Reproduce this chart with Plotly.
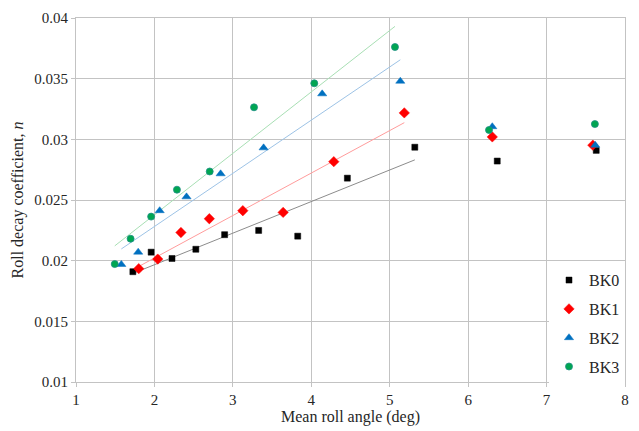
import numpy as np
import plotly.graph_objects as go

# ---- data ----
bk0_x = [1.725, 1.958, 2.224, 2.528, 2.895, 3.329, 3.827, 4.46, 5.32, 6.371, 7.633]
bk0_y = [0.01909, 0.0207, 0.02018, 0.02094, 0.02214, 0.02249, 0.02202, 0.0268, 0.02935, 0.02821, 0.02909]

bk1_x = [1.80, 2.042, 2.338, 2.70, 3.127, 3.641, 4.287, 5.186, 6.308, 7.59]
bk1_y = [0.01934, 0.02013, 0.02232, 0.02346, 0.02412, 0.02398, 0.02816, 0.03218, 0.0302, 0.02952]

bk2_x = [1.578, 1.793, 2.067, 2.409, 2.844, 3.392, 4.139, 5.135, 6.308, 7.62]
bk2_y = [0.01969, 0.0207, 0.02412, 0.02526, 0.02716, 0.0293, 0.03375, 0.03479, 0.03104, 0.02952]

bk3_x = [1.494, 1.696, 1.958, 2.287, 2.705, 3.27, 4.038, 5.067, 6.266, 7.616]
bk3_y = [0.01972, 0.02181, 0.02363, 0.02585, 0.02735, 0.03264, 0.03462, 0.03761, 0.03077, 0.03126]

series_names = ["BK0", "BK1", "BK2", "BK3"]
fit_max_x = 5.5  # trendlines fitted over the points below this roll angle

x_tick_vals = [1, 2, 3, 4, 5, 6, 7, 8]
x_tick_text = ["1", "2", "3", "4", "5", "6", "7", "8"]
y_tick_vals = [0.01, 0.015, 0.02, 0.025, 0.03, 0.035, 0.04]
y_tick_text = ["0.01", "0.015", "0.02", "0.025", "0.03", "0.035", "0.04"]

# ---- styling ----
styles = [
    dict(symbol="square", size=6, color="#000000", line=dict(color="#000000", width=0.5), trend="#8c8c8c"),
    dict(symbol="diamond", size=8, color="#ff0000", line=dict(color="#ff0000", width=0.5), trend="#ff9c9c"),
    dict(symbol="triangle-up", size=8, color="#0070c0", line=dict(color="#0070c0", width=0.5), trend="#9dc3e6"),
    dict(symbol="circle", size=7, color="#00a651", line=dict(color="#1f8f86", width=0.8), trend="#a8dfb4"),
]

FONT = "Liberation Serif, serif"
TXT = "#262626"
GRID = "#c3c3c3"

fig = go.Figure()
all_series = [(bk0_x, bk0_y), (bk1_x, bk1_y), (bk2_x, bk2_y), (bk3_x, bk3_y)]

# trendlines (linear least squares over the low-angle points)
for (xs, ys), st in zip(all_series, styles):
    xa = np.array(xs)
    ya = np.array(ys)
    m = xa < fit_max_x
    k, b = np.polyfit(xa[m], ya[m], 1)
    xl = np.array([xa[m].min(), xa[m].max()])
    fig.add_trace(go.Scatter(
        x=xl, y=k * xl + b, mode="lines",
        line=dict(color=st["trend"], width=1),
        showlegend=False, hoverinfo="skip",
    ))

for (xs, ys), st, name in zip(all_series, styles, series_names):
    fig.add_trace(go.Scatter(
        x=xs, y=ys, mode="markers", name=name, legendgroup=name,
        marker=dict(symbol=st["symbol"], size=st["size"], color=st["color"], line=st["line"]),
    ))

fig.update_layout(
    width=639, height=431,
    margin=dict(l=76, r=10, t=14, b=49),
    paper_bgcolor="white", plot_bgcolor="white",
    font=dict(family=FONT, size=15, color=TXT),
    legend=dict(
        x=1, xanchor="right", y=-0.006, yanchor="bottom",
        bgcolor="white", borderwidth=0,
        font=dict(family=FONT, size=16, color=TXT),
        tracegroupgap=5, itemwidth=30,
    ),
    showlegend=True,
)

fig.update_xaxes(
    range=[1, 8], tickvals=x_tick_vals, ticktext=x_tick_text,
    showgrid=True, gridcolor=GRID, gridwidth=1,
    showline=True, linecolor=GRID, linewidth=1, mirror=True,
    ticks="outside", ticklen=4, tickcolor=GRID,
    zeroline=False,
    tickfont=dict(family=FONT, size=15, color=TXT),
    title=dict(text="Mean roll angle (deg)", font=dict(family=FONT, size=16, color=TXT), standoff=2),
)
fig.update_yaxes(
    range=[0.01, 0.04], tickvals=y_tick_vals, ticktext=y_tick_text,
    showgrid=True, gridcolor=GRID, gridwidth=1,
    showline=True, linecolor=GRID, linewidth=1, mirror=True,
    ticks="outside", ticklen=4, tickcolor=GRID,
    zeroline=False,
    tickfont=dict(family=FONT, size=15, color=TXT),
    title=dict(text="Roll decay coefficient, <i>n</i>", font=dict(family=FONT, size=16, color=TXT), standoff=6),
)

fig.write_html("out.html")
